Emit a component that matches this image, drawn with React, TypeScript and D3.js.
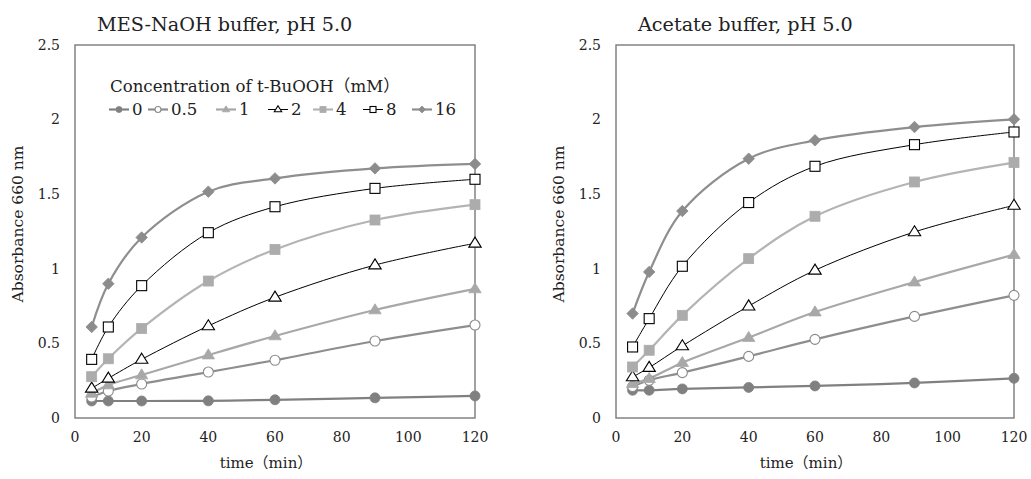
import React from "react";
import * as d3 from "d3";

const times = [5, 10, 20, 40, 60, 90, 120];
const concLabels = ["0", "0.5", "1", "2", "4", "8", "16"];

const mesValues = [
  [0.114, 0.114, 0.114, 0.115, 0.122, 0.135, 0.148],
  [0.14, 0.181, 0.228, 0.308, 0.387, 0.516, 0.623],
  [0.165, 0.221, 0.288, 0.422, 0.55, 0.724, 0.865],
  [0.199, 0.266, 0.393, 0.617, 0.809, 1.025, 1.171],
  [0.277, 0.397, 0.6, 0.918, 1.13, 1.327, 1.43],
  [0.393, 0.61, 0.887, 1.242, 1.416, 1.539, 1.6],
  [0.61, 0.9, 1.21, 1.517, 1.606, 1.673, 1.703],
];

const acetateValues = [
  [0.186, 0.186, 0.195, 0.205, 0.215, 0.235, 0.266],
  [0.21, 0.253, 0.304, 0.413, 0.527, 0.681, 0.822],
  [0.23, 0.264, 0.371, 0.539, 0.71, 0.911, 1.095],
  [0.275, 0.338, 0.483, 0.75, 0.99, 1.247, 1.425],
  [0.342, 0.454, 0.688, 1.068, 1.352, 1.582, 1.712],
  [0.476, 0.666, 1.017, 1.444, 1.687, 1.832, 1.917],
  [0.7, 0.979, 1.387, 1.738, 1.861, 1.95, 2.002],
];

const xTicks = [0, 20, 40, 60, 80, 100, 120];
const yTicks = [0, 0.5, 1, 1.5, 2, 2.5];
const yTickLabels = ["0", "0.5", "1", "1.5", "2", "2.5"];

type Style = {
  shape: "circle" | "triangle" | "square" | "diamond";
  fill: string;
  stroke: string;
  line: string;
  lw: number;
};

const styles: Style[] = [
  { shape: "circle", fill: "#808080", stroke: "#808080", line: "#808080", lw: 2.2 },
  { shape: "circle", fill: "#ffffff", stroke: "#8a8a8a", line: "#8e8e8e", lw: 2.2 },
  { shape: "triangle", fill: "#a8a8a8", stroke: "#a8a8a8", line: "#a8a8a8", lw: 2.2 },
  { shape: "triangle", fill: "#ffffff", stroke: "#000000", line: "#000000", lw: 1 },
  { shape: "square", fill: "#acacac", stroke: "#acacac", line: "#b4b4b4", lw: 2.2 },
  { shape: "square", fill: "#ffffff", stroke: "#000000", line: "#000000", lw: 1 },
  { shape: "diamond", fill: "#8c8c8c", stroke: "#8c8c8c", line: "#8e8e8e", lw: 2.2 },
];

const FONT = "'DejaVu Serif', 'Liberation Serif', 'Noto Sans CJK JP', serif";
const legendX = [109, 148, 216, 268, 313, 363, 412];

function Marker({ s, x, y, size }: { s: Style; x: number; y: number; size: number }) {
  const h = size / 2;
  const sw = s.fill === "#ffffff" ? 1.1 : 0.8;
  if (s.shape === "circle")
    return <circle cx={x} cy={y} r={h} fill={s.fill} stroke={s.stroke} strokeWidth={sw} />;
  if (s.shape === "square")
    return <rect x={x - h} y={y - h} width={size} height={size} fill={s.fill} stroke={s.stroke} strokeWidth={sw} />;
  if (s.shape === "diamond") {
    const d = h * 1.15;
    return (
      <path d={`M${x},${y - d}L${x + d},${y}L${x},${y + d}L${x - d},${y}Z`} fill={s.fill} stroke={s.stroke} strokeWidth={sw} />
    );
  }
  const t = size * 0.62;
  return (
    <path
      d={`M${x},${y - t}L${x + t},${y + t * 0.62}L${x - t},${y + t * 0.62}Z`}
      fill={s.fill}
      stroke={s.stroke}
      strokeWidth={sw}
    />
  );
}

function Panel({
  left,
  right,
  title,
  values,
  legend,
}: {
  left: number;
  right: number;
  title: string;
  values: number[][];
  legend: boolean;
}) {
  const top = 45;
  const bottom = 418;
  const x = d3.scaleLinear().domain([0, 120]).range([left, right]);
  const y = d3.scaleLinear().domain([0, 2.5]).range([bottom, top]);
  const line = d3
    .line<number>()
    .x((_, i) => x(times[i]))
    .y((v) => y(v))
    .curve(d3.curveCatmullRom.alpha(0.5));

  return (
    <g>
      <text x={left + 22} y={31} fontFamily={FONT} fontSize={19.2} fill="#222">
        {title}
      </text>
      <rect x={left} y={top} width={right - left} height={bottom - top} fill="none" stroke="#7a7a7a" strokeWidth={1.4} />
      {yTicks.map((t, i) => (
        <text key={t} x={left - 15} y={y(t) + 4.8} textAnchor="end" fontFamily={FONT} fontSize={14} fill="#222">
          {yTickLabels[i]}
        </text>
      ))}
      {xTicks.map((t) => (
        <text key={t} x={x(t)} y={442} textAnchor="middle" fontFamily={FONT} fontSize={14} fill="#222">
          {t}
        </text>
      ))}
      <text x={(left + right) / 2 - 9} y={468} textAnchor="middle" fontFamily={FONT} fontSize={15} fill="#222">
        time（min）
      </text>
      <text
        transform={`translate(${left - 52},${224}) rotate(-90)`}
        textAnchor="middle"
        fontFamily={FONT}
        fontSize={15.5}
        fill="#222"
      >
        Absorbance 660 nm
      </text>
      {values.map((vals, si) => (
        <path key={"l" + si} d={line(vals) || ""} fill="none" stroke={styles[si].line} strokeWidth={styles[si].lw} />
      ))}
      {values.map((vals, si) =>
        vals.map((v, i) => <Marker key={si + "-" + i} s={styles[si]} x={x(times[i])} y={y(v)} size={10} />)
      )}
      {legend && (
        <g>
          <text x={110} y={92} fontFamily={FONT} fontSize={16.6} fill="#222">
            Concentration of t-BuOOH（mM）
          </text>
          {concLabels.map((c, i) => (
            <g key={c}>
              <line x1={legendX[i]} x2={legendX[i] + 20} y1={109.5} y2={109.5} stroke={styles[i].line} strokeWidth={styles[i].lw} />
              <Marker s={styles[i]} x={legendX[i] + 10} y={109.5} size={6} />
              <text x={legendX[i] + 23} y={115} fontFamily={FONT} fontSize={16.6} fill="#222">
                {c}
              </text>
            </g>
          ))}
        </g>
      )}
    </g>
  );
}

export default function App() {
  return (
    <svg
      width={1031}
      height={479}
      viewBox="0 0 1031 479"
      style={{ position: "absolute", left: 0, top: 0, background: "#fff" }}
    >
      <rect x={0} y={0} width={1031} height={479} fill="#fff" />
      <Panel left={75} right={475} title="MES-NaOH buffer, pH 5.0" values={mesValues} legend={true} />
      <Panel left={616} right={1014} title="Acetate buffer, pH 5.0" values={acetateValues} legend={false} />
    </svg>
  );
}
